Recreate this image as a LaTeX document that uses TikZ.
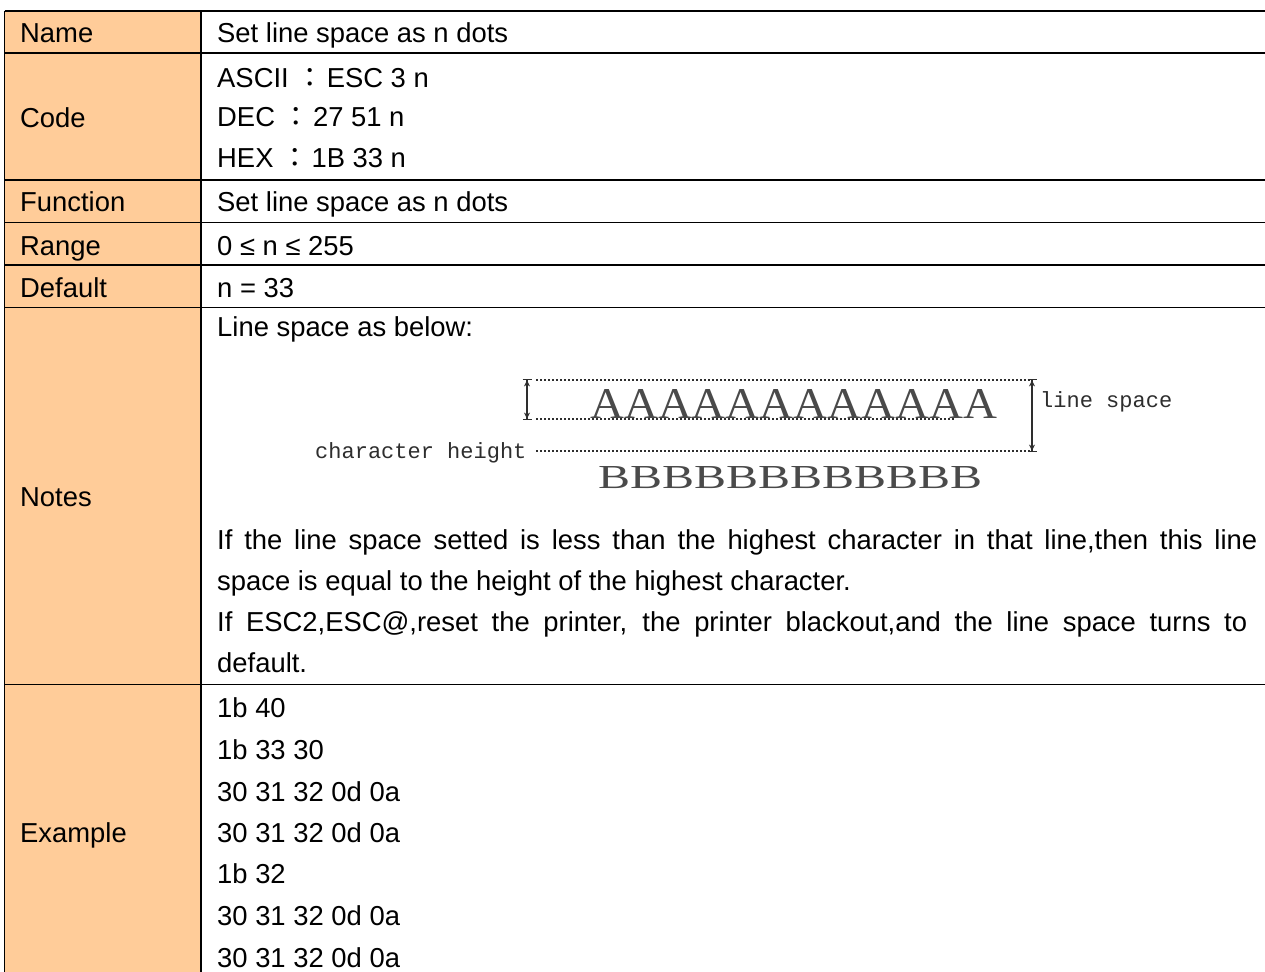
\documentclass[tikz,border=0pt]{standalone}
\usepackage{fontspec}
\setmainfont{Liberation Sans}
\newfontfamily\serifA{Liberation Serif}
\newfontfamily\monoA{Liberation Mono}
\newfontfamily\cjk{Noto Sans CJK TC}
\usetikzlibrary{arrows.meta}
\definecolor{labelfill}{HTML}{FFCC99}
\definecolor{diagink}{HTML}{2E2E2E}
\definecolor{letterink}{HTML}{4A4A4A}
\tikzset{
  txt/.style={anchor=base west, inner sep=0pt, font=\fontsize{27.4}{33}\selectfont},
  gridline/.style={line width=1.3pt, black},
  dotline/.style={line width=2.8pt, diagink, dash pattern=on 2pt off 2pt},
  dimarrow/.style={line width=1.4pt, diagink, {Bar[width=9pt]Stealth[length=6pt,width=6pt]}-{Stealth[length=6pt,width=6pt]Bar[width=9pt]}},
  monolbl/.style={anchor=base west, inner sep=0pt, text=diagink, font=\monoA\fontsize{22}{24}\selectfont},
  bigletters/.style={anchor=base west, inner sep=0pt, text=letterink}
}
\begin{document}
\begin{tikzpicture}[x=1pt,y=-1pt]
\useasboundingbox (0,0) rectangle (1265,971);
\fill[white] (0,0) rectangle (1265,971);
% label column
\fill[labelfill] (4.5,11) rectangle (201,985);
% grid
\draw[gridline] (4.5,11) -- (1275,11);
\foreach \yy in {53,180,222.5,265,307.5,684.5} {\draw[gridline] (4.5,\yy) -- (1275,\yy);}
\draw[gridline] (4.5,11) -- (4.5,985);
\draw[gridline] (201,11) -- (201,985);

% labels
\node[txt] (lname) at (20,42.5) {Name};
\node[txt] (lcode) at (20,128) {Code};
\node[txt] (lfunc) at (20,211.5) {Function};
\node[txt] (lrange) at (20,255) {Range};
\node[txt] (ldef) at (20,297) {Default};
\node[txt] (lnotes) at (20,506) {Notes};
\node[txt] (lex) at (20,842) {Example};

% values
\node[txt] (vname) at (217,42.5) {Set line space as n dots};
\node[txt] (vascii) at (217,88) {ASCII {\cjk ：}\hspace{3pt}ESC 3 n};
\node[txt] (vdec) at (217,127) {DEC {\cjk ：}\hspace{3pt}27 51 n};
\node[txt] (vhex) at (217,167) {HEX {\cjk ：}\hspace{3pt}1B 33 n};
\node[txt] (vfunc) at (217,211.5) {Set line space as n dots};
\node[txt] (vrange) at (217,255) {0 ≤ n ≤ 255};
\node[txt] (vdef) at (217,297) {n = 33};
\node[txt] (vn0) at (217,336) {Line space as below:};
\node[txt] (vn1) at (217,549) {\makebox[1040pt][s]{If the line space setted is less than the highest character in that line,then this line}};
\node[txt] (vn2) at (217,590) {space is equal to the height of the highest character.};
\node[txt] (vn3) at (217,631) {\makebox[1030pt][s]{If ESC2,ESC@,reset the printer, the printer blackout,and the line space turns to}};
\node[txt] (vn4) at (217,672) {default.};
\node[txt] (ve1) at (217,717) {1b 40};
\node[txt] (ve2) at (217,759) {1b 33 30};
\node[txt] (ve3) at (217,801) {30 31 32 0d 0a};
\node[txt] (ve4) at (217,842) {30 31 32 0d 0a};
\node[txt] (ve5) at (217,883) {1b 32};
\node[txt] (ve6) at (217,925) {30 31 32 0d 0a};
\node[txt] (ve7) at (217,967) {30 31 32 0d 0a};

% line-space figure
\coordinate (d1a) at (536,380);
\coordinate (d1b) at (1030,380);
\coordinate (d2a) at (536,419);
\coordinate (d2b) at (954,419);
\coordinate (d3a) at (536,451);
\coordinate (d3b) at (1030,451);
\draw[dotline] (d1a) -- (d1b);
\draw[dotline] (d2a) -- (d2b);
\draw[dotline] (d3a) -- (d3b);
\coordinate (chA) at (527,379);
\coordinate (chB) at (527,420);
\draw[dimarrow] (chA) -- (chB);
\coordinate (lsA) at (1032,379);
\coordinate (lsB) at (1032,452);
\draw[dimarrow] (lsA) -- (lsB);
\node[bigletters] (rowA) at (590,418) {\resizebox{407pt}{29pt}{\serifA AAAAAAAAAAAA}};
\node[bigletters] (rowB) at (598,488) {\resizebox{384pt}{22pt}{\serifA BBBBBBBBBBBB}};
\node[monolbl] (lsp) at (1040,407) {line space};
\node[monolbl] (chh) at (315,458) {character height};
\end{tikzpicture}
\end{document}
